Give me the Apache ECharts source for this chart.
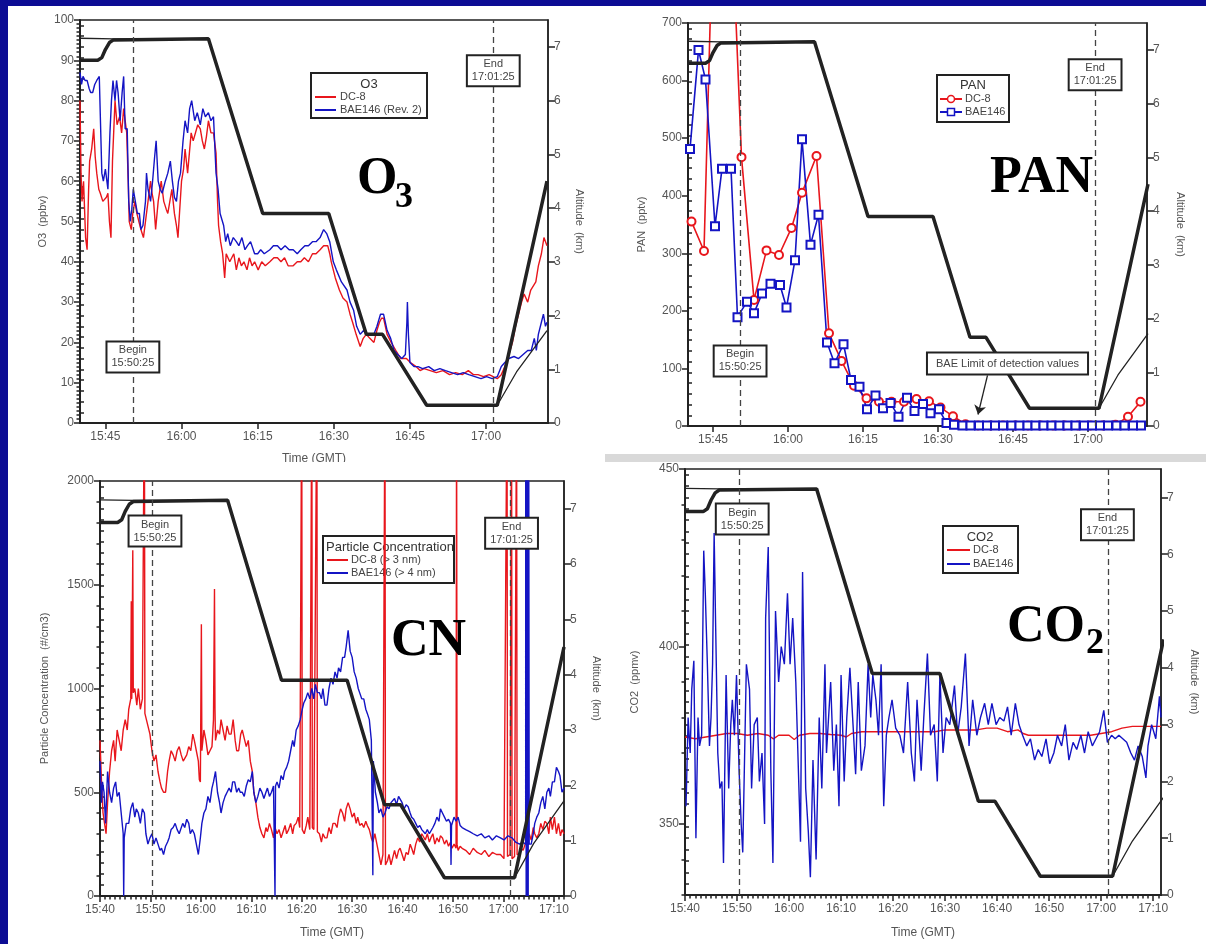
<!DOCTYPE html>
<html>
<head>
<meta charset="utf-8">
<title>O3 / PAN / CN / CO2 intercomparison</title>
<script src="https://cdn.jsdelivr.net/npm/echarts@6.0.0/dist/echarts.min.js"></script>
<style>
  html, body { margin: 0; padding: 0; background: #0c0c94; }
  #paper { position: absolute; left: 8px; top: 6px; width: 1198px; height: 938px; background: #fff; }
  #chart { position: absolute; left: 0; top: 0; width: 1206px; height: 944px; }
</style>
</head>
<body>
<div id="paper"></div>
<div id="chart"></div>
<script>
// time is minutes after 15:40 GMT
const TOP_TICKS = [5, 20, 35, 50, 65, 80];
const BOTTOM_TICKS = [0, 10, 20, 30, 40, 50, 60, 70, 80, 90];
const BEGIN_T = 10.42; // 15:50:25
const END_T = 81.42;   // 17:01:25

// altitude (km): thick and thin black traces
const altThick = [[0,6.75],[3.5,6.75],[4.3,6.8],[5.0,6.95],[5.8,7.08],[6.6,7.13],[25.3,7.15],[36.0,3.9],[49.0,3.9],[56.4,1.65],[59.6,1.65],[68.3,0.33],[82.2,0.33],[92,4.5]];
const altThin = [[0,7.16],[6.6,7.15],[25.3,7.15],[36.0,3.9],[49.0,3.9],[56.4,1.65],[59.6,1.65],[68.3,0.33],[82.2,0.33],[86.0,0.95],[92,1.72]];

// O3 (ppbv)
const o3Dc8 = [[0,80],[0.2,62],[0.4,55],[0.7,60],[1.1,46],[1.4,43],[1.7,58],[1.9,65],[2.3,68],[2.7,73],[3.0,66],[3.3,62],[3.7,58],[4.0,57],[4.5,55],[5.2,56],[5.5,57],[5.8,50],[6.1,46],[6.4,65],[6.9,80],[7.3,74],[7.8,76],[8.2,72],[8.6,78],[9.2,72],[9.5,60],[9.7,50],[10.1,48],[10.4,52],[10.8,55],[11.2,52],[11.6,50],[12.0,48],[12.5,46],[13.1,52],[13.5,56],[13.9,60],[14.2,57],[14.5,55],[14.9,48],[15.4,55],[16.0,60],[16.5,55],[17.0,53],[17.3,52],[17.7,55],[18.1,58],[18.6,52],[19.0,49],[19.3,46],[20.0,60],[20.4,63],[20.7,68],[21.2,62],[21.9,72],[22.3,70],[22.6,70],[23.2,74],[23.7,73],[24.1,70],[24.5,68],[24.9,71],[25.3,75],[25.8,72],[26.3,72],[26.8,67],[27.1,55],[27.3,49],[27.7,45],[28.1,42],[28.5,36],[28.8,42],[29.1,42],[29.5,40],[29.8,40],[30.3,42],[30.8,38],[31.3,41],[31.8,39],[32.3,40],[32.9,38],[33.4,41],[33.9,39],[34.4,40],[35.1,38],[35.8,40],[36.5,39],[37.4,40],[38.2,41],[38.9,41],[39.6,40],[40.3,41],[41.0,39],[42.0,39],[42.8,40],[43.5,40],[44.2,41],[45.0,40],[45.8,42],[46.5,42],[47.3,43],[48.0,44],[48.8,44],[49.2,42],[49.5,40],[50.3,36],[51.1,33],[51.8,31],[52.6,30],[53.2,27],[53.7,25],[54.4,22],[55.2,19],[55.8,21],[56.4,22],[57.1,21],[57.9,20],[58.5,23],[59.0,25],[59.4,26],[59.8,26],[60.5,22],[61.3,20],[62.2,18],[63.2,16],[64.3,16],[65.1,15],[66.2,14],[67.0,13],[67.8,13.5],[69.0,13],[70.2,12.5],[71.5,13],[72.8,12],[74.0,12.5],[75.3,12],[76.5,13],[77.5,12],[78.4,12],[79.5,11.5],[80.6,12],[81.4,11.5],[82.2,11],[83.0,12],[83.7,14],[84.5,17],[85.2,20],[85.8,24],[86.4,27],[87.0,30],[87.5,32],[88.2,30],[88.8,33],[89.8,35],[90.3,39],[90.9,42],[91.4,46],[92,44]];
const o3Bae = [[0,87],[0.3,84],[0.6,86],[1.0,85],[1.4,85],[1.8,83],[2.1,82],[2.5,82],[2.9,84],[3.3,85],[3.8,86],[4.1,86],[4.3,62],[4.6,60],[5.0,63],[5.5,58],[5.9,72],[6.2,80],[6.5,85],[6.9,80],[7.2,85],[7.5,82],[7.9,75],[8.3,82],[8.6,86],[8.9,73],[9.3,73],[9.6,55],[9.9,50],[10.2,53],[10.5,58],[10.9,55],[11.3,52],[11.7,52],[12.0,48],[12.4,49],[12.9,55],[13.1,62],[13.4,58],[13.9,55],[14.3,60],[14.7,66],[15.0,70],[15.4,60],[15.8,58],[16.2,57],[16.8,60],[17.3,62],[17.8,65],[18.2,60],[18.6,56],[19.0,55],[19.4,60],[19.8,62],[20.3,70],[20.7,75],[21.2,72],[21.6,78],[22.0,80],[22.6,75],[23.1,77],[23.7,74],[24.2,78],[24.7,76],[25.3,77],[25.8,75],[26.3,76],[26.8,62],[27.2,58],[27.6,52],[28.3,49],[28.7,45],[29.1,47],[29.6,44],[30.2,46],[30.8,45],[31.3,44],[31.9,46],[32.5,43],[33.0,44],[33.6,45],[34.4,42],[35.0,42],[35.6,43],[36.3,42],[37.4,43],[38.1,44],[38.9,44],[39.6,43],[40.4,44],[41.2,43],[42.0,43],[42.8,42],[43.5,43],[44.3,44],[45.0,44],[45.8,45],[46.5,45],[47.3,46],[48.0,48],[48.6,47],[49.2,45],[49.9,40],[50.5,38],[51.5,35],[52.6,33],[53.2,30],[53.9,28],[54.5,24],[55.2,22],[55.9,23],[56.6,22],[57.1,22],[57.9,22],[58.5,24],[59.2,27],[59.8,27],[60.5,23],[61.2,21],[61.9,18],[62.6,17],[63.4,16],[64.1,17],[64.4,25],[64.5,30],[64.7,22],[65.0,15],[65.8,14],[66.6,14],[67.5,13.5],[68.7,14],[69.8,13],[70.9,13.5],[72.0,13],[73.2,12.5],[74.4,12],[75.5,12.5],[76.6,12],[77.8,11.5],[79.0,11],[80.1,11.5],[81.2,11],[82.2,11.5],[83.0,14],[83.7,15],[84.5,16],[85.5,16.5],[86.4,16],[87.3,17],[88.2,18],[88.9,18],[89.5,21],[89.9,18],[90.3,22],[90.9,25],[91.3,27],[91.7,24],[92,25]];

// PAN (pptv)
const panDc8 = [[0.7,355],[3.2,304],[6.5,1370],[10.7,467],[13.2,219],[15.7,305],[18.2,297],[20.7,344],[22.8,405],[25.7,469],[28.2,161],[30.7,113],[33.2,70],[35.7,48],[38.2,42],[40.7,42],[43.2,42],[45.7,47],[48.2,43],[50.5,32],[53.0,17],[55.5,3],[58.0,1],[60.5,1],[63.0,1],[65.5,1],[68.0,1],[70.5,1],[73.0,1],[75.3,1],[78.0,1],[80.5,1],[83.0,1],[85.5,2],[88.0,16],[90.5,42]];
const panBae = [[0.4,481],[2.1,653],[3.5,602],[5.4,347],[6.8,447],[8.6,447],[9.9,189],[11.8,216],[13.2,196],[14.8,230],[16.5,247],[18.4,245],[19.7,206],[21.4,288],[22.8,498],[24.5,315],[26.1,367],[27.8,145],[29.3,109],[31.1,142],[32.6,80],[34.3,68],[35.8,29],[37.5,53],[39.0,31],[40.5,40],[42.1,16],[43.8,49],[45.3,26],[47.0,38],[48.5,22],[50.2,29],[51.7,5],[53.2,2],[54.9,1],[56.5,1],[58.2,1],[59.8,1],[61.4,1],[63.0,1],[64.7,1],[66.3,1],[67.9,1],[69.5,1],[71.1,1],[72.7,1],[74.3,1],[75.9,1],[77.5,1],[79.2,1],[80.8,1],[82.4,1],[84.0,1],[85.7,1],[87.3,1],[89.0,1],[90.6,1]];

// particle concentration (#/cm3)
const cnDc8 = [[0,750],[0.3,550],[0.6,400],[0.9,350],[1.2,300],[1.5,450],[1.9,600],[2.3,700],[2.7,750],[3.0,650],[3.4,800],[3.8,750],[4.2,700],[4.6,800],[5.0,850],[5.4,800],[5.7,900],[6.1,950],[6.2,1420],[6.3,950],[6.5,1666],[6.6,980],[6.9,1000],[7.3,920],[7.6,1000],[8.0,900],[8.4,950],[8.8,2500],[8.9,880],[9.2,850],[9.5,850],[9.9,780],[10.3,700],[10.7,650],[11.1,680],[11.5,600],[11.9,550],[12.2,520],[12.6,500],[13.0,500],[13.4,600],[13.7,650],[14.1,700],[14.5,680],[14.9,650],[15.3,700],[15.7,720],[16.1,680],[16.5,650],[16.8,650],[17.2,680],[17.6,720],[18.0,700],[18.4,780],[18.7,750],[19.1,700],[19.5,650],[19.7,560],[19.9,550],[20.1,1310],[20.2,700],[20.6,800],[21.0,750],[21.4,680],[21.8,700],[22.2,720],[22.5,850],[22.7,1480],[22.8,900],[22.9,750],[23.3,800],[23.7,780],[24.0,850],[24.4,800],[24.8,750],[25.2,820],[25.6,780],[26.0,780],[26.4,850],[26.8,750],[27.1,700],[27.5,700],[27.9,780],[28.2,800],[28.6,760],[29.0,720],[29.4,750],[29.8,650],[30.2,600],[30.5,500],[30.9,450],[31.3,380],[31.7,330],[32.1,300],[32.5,280],[32.9,330],[33.2,310],[33.6,350],[34.0,320],[34.4,280],[34.7,330],[35.1,300],[35.5,320],[35.9,280],[36.3,310],[36.7,340],[37.0,300],[37.4,320],[37.8,350],[38.2,300],[38.5,340],[38.9,350],[39.3,380],[39.6,330],[40.0,2500],[40.1,320],[40.5,300],[40.9,340],[41.2,380],[41.6,320],[42.0,2500],[42.1,330],[42.4,320],[43.0,2500],[43.1,310],[43.5,300],[43.9,260],[44.2,300],[44.6,280],[45.0,280],[45.4,330],[45.8,300],[46.2,350],[46.6,350],[47.0,330],[47.3,380],[47.7,420],[48.1,400],[48.5,360],[48.8,420],[49.2,450],[49.6,420],[50.0,380],[50.4,400],[50.8,350],[51.1,380],[51.5,340],[51.9,350],[52.3,330],[52.7,360],[53.0,340],[53.4,320],[53.8,280],[54.1,260],[54.5,300],[54.9,250],[55.3,200],[55.7,150],[56.1,200],[56.5,2500],[56.6,150],[57.0,170],[57.3,200],[57.7,150],[58.0,180],[58.4,220],[58.8,180],[59.2,220],[59.5,230],[59.9,200],[60.3,170],[60.7,210],[61.1,200],[61.5,250],[61.8,230],[62.2,200],[62.6,250],[63.0,280],[63.4,260],[63.8,300],[64.1,300],[64.5,270],[64.9,300],[65.3,260],[65.6,280],[66.0,300],[66.4,250],[66.8,280],[67.2,260],[67.5,290],[67.9,280],[68.3,250],[68.7,270],[69.1,240],[69.5,260],[69.8,230],[70.2,250],[70.6,230],[70.7,2500],[70.8,250],[71.0,220],[71.4,240],[71.8,230],[72.5,220],[73.3,200],[74.0,230],[74.8,210],[75.6,200],[76.3,220],[77.1,190],[77.8,210],[78.6,200],[79.4,200],[80.1,180],[80.7,2500],[80.8,190],[81.3,200],[81.6,2500],[81.7,180],[82.2,190],[82.6,2500],[82.7,200],[83.2,200],[83.5,230],[83.9,220],[84.3,250],[84.7,250],[85.1,300],[85.5,270],[85.9,330],[86.2,300],[86.6,280],[87.0,300],[87.4,350],[87.8,320],[88.2,360],[88.6,350],[89.0,300],[89.3,380],[89.7,320],[90.1,380],[90.5,300],[90.9,350],[91.3,290],[91.6,320],[92,300]];
const cnBae = [[0,650],[0.3,450],[0.5,550],[0.8,500],[1.1,350],[1.5,600],[1.9,500],[2.3,450],[2.7,520],[3.1,550],[3.4,480],[3.8,500],[4.2,400],[4.6,300],[4.7,0],[4.8,280],[5.2,350],[5.7,350],[6.1,420],[6.5,450],[6.9,380],[7.2,420],[7.6,400],[8.0,350],[8.4,420],[8.8,400],[9.1,300],[9.5,250],[9.9,280],[10.3,300],[10.7,250],[11.1,280],[11.5,250],[11.9,220],[12.2,230],[12.6,200],[13.0,240],[13.4,260],[13.7,280],[14.1,320],[14.5,330],[14.9,350],[15.3,320],[15.7,300],[16.0,300],[16.4,350],[16.8,330],[17.2,370],[17.6,350],[17.9,300],[18.3,320],[18.7,300],[19.1,250],[19.5,200],[19.9,280],[20.2,350],[20.6,400],[21.0,420],[21.4,480],[21.8,450],[22.2,520],[22.5,550],[22.9,600],[23.3,500],[23.7,450],[24.0,400],[24.4,450],[24.8,480],[25.2,500],[25.6,520],[26.0,500],[26.3,550],[26.7,550],[27.1,500],[27.5,520],[27.8,500],[28.2,500],[28.6,480],[29.0,530],[29.4,560],[29.8,550],[30.2,600],[30.5,500],[30.9,450],[31.3,480],[31.7,520],[32.1,500],[32.5,470],[32.9,500],[33.2,520],[33.6,480],[34.0,500],[34.4,530],[34.7,0],[34.8,530],[35.1,550],[35.5,520],[35.9,580],[36.3,560],[36.6,600],[37.0,620],[37.4,650],[37.8,700],[38.2,750],[38.5,720],[38.9,800],[39.3,820],[39.7,850],[40.1,900],[40.4,930],[40.8,950],[41.2,980],[41.6,950],[42.0,1000],[42.4,950],[42.7,1020],[43.1,980],[43.5,980],[43.9,950],[44.2,1000],[44.6,920],[45.0,920],[45.4,1000],[45.8,1050],[46.2,1020],[46.6,1080],[47.0,1050],[47.3,1100],[47.7,1080],[48.1,1150],[48.5,1150],[48.8,1200],[49.2,1280],[49.6,1180],[50.0,1150],[50.4,1080],[50.8,1050],[51.2,1000],[51.5,1000],[51.9,950],[52.3,950],[52.7,900],[53.0,880],[53.4,850],[53.8,750],[54.1,100],[54.2,650],[54.6,500],[55.0,450],[55.3,400],[55.7,420],[56.1,380],[56.5,400],[56.9,430],[57.3,420],[57.7,450],[58.0,450],[58.4,470],[58.8,440],[59.2,480],[59.5,480],[59.9,450],[60.3,420],[60.7,440],[61.1,430],[61.5,400],[61.8,380],[62.2,370],[62.6,350],[63.0,330],[63.4,340],[63.8,320],[64.1,320],[64.5,300],[64.9,320],[65.3,300],[65.6,300],[66.0,330],[66.4,350],[66.8,380],[67.2,360],[67.5,420],[67.9,400],[68.3,380],[68.7,360],[69.1,370],[69.5,350],[69.6,150],[69.7,340],[70.2,380],[70.6,360],[71.0,380],[71.4,340],[71.8,330],[72.5,320],[73.3,310],[74.0,300],[74.8,290],[75.6,300],[76.3,280],[77.1,290],[77.8,270],[78.6,290],[79.4,280],[80.1,270],[80.9,290],[81.7,280],[82.4,260],[83.2,250],[83.8,260],[84.4,250],[84.4,2500],[84.5,0],[84.6,2500],[84.7,0],[84.8,2500],[84.9,0],[85.0,2500],[85.1,250],[85.5,250],[85.9,300],[86.2,350],[86.6,380],[87.0,400],[87.4,450],[87.8,480],[88.2,420],[88.6,500],[89.0,520],[89.3,480],[89.7,550],[90.1,550],[90.5,620],[90.9,600],[91.2,580],[91.6,500],[92,520]];

// CO2 (ppmv)
const co2Dc8 = [[0,374.5],[2,374],[4,374.5],[6,375],[8,375.5],[10,375.5],[12,375],[14,375.5],[16,375],[17,374],[18,375],[20,375],[21,373.8],[22,375],[24,375.5],[26,375.5],[28,375.2],[30,375],[31,374.5],[32,375.5],[34,376],[36,376],[38,376],[40,376],[42,376],[44,376],[46,376],[48,376],[50,376.5],[52,376.5],[54,376.5],[56,376.5],[58,377],[60,377],[62,376],[64,376.5],[65,375.5],[66,375],[68,375],[70,375],[72,375],[74,375],[76,375],[78,375],[80,375.5],[82,376],[84,377],[86,377.5],[88,377.5],[90,377.5],[91.5,377.5]];
const co2Bae = [[0.2,355],[0.6,380],[1.0,370],[1.3,388],[1.7,396],[2.1,346],[2.5,380],[2.8,372],[3.2,375],[3.6,427],[3.9,415],[4.3,395],[4.7,372],[5.0,380],[5.3,395],[5.6,432],[5.9,405],[6.3,370],[6.7,360],[7.1,362],[7.4,339],[7.9,392],[8.4,360],[8.8,378],[9.1,385],[9.5,375],[9.9,392],[10.4,365],[10.8,350],[11.1,342],[11.6,380],[11.8,395],[12.4,388],[12.8,360],[13.3,378],[13.9,380],[14.3,362],[14.8,370],[15.3,350],[15.5,408],[16.0,428],[16.5,365],[16.9,339],[17.4,410],[18.0,390],[18.5,400],[19.1,395],[19.7,415],[20.2,395],[20.7,408],[21.3,390],[21.7,370],[22.2,345],[22.6,421],[23.2,360],[23.7,348],[24.1,335],[24.6,368],[25.2,340],[25.8,380],[26.3,360],[26.9,395],[27.2,370],[28.0,390],[28.6,365],[29.1,378],[29.6,355],[30.0,392],[30.6,362],[31.1,380],[31.7,394],[32.3,378],[32.8,364],[33.3,390],[33.9,365],[34.6,372],[35.2,395],[35.7,380],[36.1,392],[36.7,385],[37.2,375],[37.7,395],[38.2,355],[38.7,375],[39.2,380],[39.8,385],[40.5,377],[41.3,375],[42.0,370],[42.8,390],[43.5,370],[44.1,362],[44.6,385],[45.4,365],[45.9,380],[46.6,398],[47.2,375],[47.9,378],[48.5,362],[49.0,392],[49.6,370],[50.2,380],[50.9,378],[51.8,389],[52.4,375],[53.1,383],[53.9,398],[54.6,372],[55.3,385],[56.1,375],[56.8,380],[57.6,384],[58.3,378],[59.0,384],[59.8,378],[60.5,380],[61.3,379],[62.0,383],[62.7,375],[63.5,384],[64.2,378],[64.9,375],[65.7,372],[66.4,374],[67.2,368],[67.9,371],[68.6,369],[69.4,374],[70.1,367],[70.9,370],[71.6,375],[72.4,372],[73.1,378],[73.8,368],[74.6,373],[75.3,371],[76.1,375],[76.8,370],[77.5,376],[78.3,372],[79.0,374],[79.7,376],[80.5,382],[81.2,373],[82.0,375],[82.7,374],[83.4,375],[84.9,373],[85.7,370],[86.4,368],[87.1,372],[87.9,369],[88.6,363],[89.0,372],[89.7,378],[90.5,374],[91.2,386],[91.5,380]];

const RED = '#e8161c';
const BLUE = '#1414c4';
const BLACK = '#222';
const LABEL = '#555';
const FONT = '"Liberation Sans", Arial, sans-serif';
const SERIF = '"Liberation Serif", "Times New Roman", serif';

function steps(a, b, s) {
    const out = [];
    for (let v = a; v <= b + 1e-9; v += s) out.push(+v.toFixed(2));
    return out;
}

function fmtTime(v) {
    const m = Math.round(940 + v);
    return Math.floor(m / 60) + ':' + String(m % 60).padStart(2, '0');
}

function plain(v) {
    return String(v);
}

const ALT_MAJOR = steps(0, 7, 1);
const ALT_MINOR = steps(0, 7.4, 0.2);

const panels = [
    {
        grid: { left: 80, top: 20, width: 468, height: 403 }, xMax: 92.2,
        yMin: 0, yMax: 100, yMajor: steps(0, 100, 10), yMinor: steps(0, 100, 1),
        xMajor: TOP_TICKS, xMinor: [], xName: 'Time (GMT)', xNameGap: 30,
        yName: 'O3  (ppbv)', yNameGap: 32, altNameGap: 26,
        dc8: o3Dc8, bae: o3Bae, symbols: false,
        begin: [10.42, 16.4], end: [81.42, 87.4]
    },
    {
        grid: { left: 688, top: 23, width: 459, height: 403 }, xMax: 91.8,
        yMin: 0, yMax: 700, yMajor: steps(0, 700, 100), yMinor: [],
        xMajor: TOP_TICKS, xMinor: [], xName: '', xNameGap: 30,
        yName: 'PAN  (pptv)', yNameGap: 41, altNameGap: 28,
        dc8: panDc8, bae: panBae, symbols: true,
        begin: [10.42, 113], end: [81.42, 610],
        note: { text: 'BAE Limit of detection values', at: [63.9, 108.6], arrow: [[59.9, 88], [58.0, 20]] }
    },
    {
        grid: { left: 100, top: 481, width: 464, height: 415 }, xMax: 92,
        yMin: 0, yMax: 2000, yMajor: steps(0, 2000, 500), yMinor: steps(0, 2000, 100),
        xMajor: BOTTOM_TICKS, xMinor: steps(0, 92, 1), xName: 'Time (GMT)', xNameGap: 31,
        yName: 'Particle Concentration  (#/cm3)', yNameGap: 50, altNameGap: 27,
        dc8: cnDc8, bae: cnBae, symbols: false,
        begin: [10.9, 1759], end: [81.6, 1748]
    },
    {
        grid: { left: 685, top: 469, width: 476, height: 426 }, xMax: 91.5,
        yMin: 330, yMax: 450, yMajor: [350, 400, 450], yMinor: steps(330, 450, 10),
        xMajor: BOTTOM_TICKS, xMinor: steps(0, 91, 1), xName: 'Time (GMT)', xNameGap: 32,
        yName: 'CO2  (ppmv)', yNameGap: 45, altNameGap: 28,
        dc8: co2Dc8, bae: co2Bae, symbols: false,
        begin: [11.0, 435.9], end: [81.2, 434.3]
    }
];

const legends = [
    { x: 311, y: 73, w: 116, h: 45, title: 'O3', titleX: 369, titleY: 84, align: 'center', lineX: [315, 336], textX: 340, rowY: [97, 110], rows: ['DC-8', 'BAE146 (Rev. 2)'], marks: false },
    { x: 937, y: 75, w: 72, h: 47, title: 'PAN', titleX: 973, titleY: 85, align: 'center', lineX: [940, 962], textX: 965, rowY: [99, 112], rows: ['DC-8', 'BAE146'], marks: true },
    { x: 323, y: 536, w: 131, h: 47, title: 'Particle Concentration', titleX: 326, titleY: 547, align: 'left', lineX: [327, 348], textX: 351, rowY: [560, 573], rows: ['DC-8 (> 3 nm)', 'BAE146 (> 4 nm)'], marks: false },
    { x: 943, y: 526, w: 75, h: 47, title: 'CO2', titleX: 980, titleY: 537, align: 'center', lineX: [947, 970], textX: 973, rowY: [550, 564], rows: ['DC-8', 'BAE146'], marks: false }
];

const bigLabels = [
    { main: 'O', sub: '3', x: 357, y: 180, subX: 395, subY: 198 },
    { main: 'PAN', sub: '', x: 990, y: 179 },
    { main: 'CN', sub: '', x: 391, y: 642 },
    { main: 'CO', sub: '2', x: 1007, y: 628, subX: 1086, subY: 644 }
];

const labelStyle = { color: LABEL, fontSize: 12, fontFamily: FONT };
const tickStyle = { color: BLACK, width: 1.5 };
const boxLabel = {
    show: true, position: 'inside', color: '#444', fontSize: 11, lineHeight: 13,
    backgroundColor: '#fff', borderColor: BLACK, borderWidth: 2, padding: [2, 4, 1, 4],
    formatter: function (d) { return d.name; }
};

const option = {
    animation: false,
    textStyle: { fontFamily: FONT },
    grid: [], xAxis: [], yAxis: [], series: [], graphic: []
};

panels.forEach(function (p, i) {
    option.grid.push(Object.assign({ show: true, borderColor: BLACK, borderWidth: 1.5, backgroundColor: 'transparent' }, p.grid));

    option.xAxis.push({
        type: 'value', gridIndex: i, min: 0, max: p.xMax, position: 'bottom',
        axisLine: { show: true, onZero: false, lineStyle: { color: BLACK, width: 2 } },
        axisTick: { show: true, customValues: p.xMajor, length: 6, lineStyle: tickStyle },
        axisLabel: Object.assign({ customValues: p.xMajor, formatter: fmtTime, margin: 8 }, labelStyle),
        splitLine: { show: false },
        name: p.xName, nameLocation: 'middle', nameGap: p.xNameGap,
        nameTextStyle: { color: LABEL, fontSize: 12 }
    });
    option.xAxis.push({
        type: 'value', gridIndex: i, min: 0, max: p.xMax, position: 'bottom',
        axisLine: { show: false },
        axisTick: { show: p.xMinor.length > 0, customValues: p.xMinor, length: 3.5, lineStyle: tickStyle },
        axisLabel: { show: false }, splitLine: { show: false }
    });

    option.yAxis.push({
        type: 'value', gridIndex: i, min: p.yMin, max: p.yMax, position: 'left',
        axisLine: { show: true, onZero: false, lineStyle: { color: BLACK, width: 2 } },
        axisTick: { show: true, customValues: p.yMajor, length: 6, lineStyle: tickStyle },
        axisLabel: Object.assign({ customValues: p.yMajor, formatter: plain, margin: 6 }, labelStyle),
        splitLine: { show: false },
        name: p.yName, nameLocation: 'middle', nameGap: p.yNameGap, nameRotate: 90,
        nameTextStyle: { color: LABEL, fontSize: 11 }
    });
    option.yAxis.push({
        type: 'value', gridIndex: i, min: p.yMin, max: p.yMax, position: 'left',
        axisLine: { show: false },
        axisTick: { show: p.yMinor.length > 0, customValues: p.yMinor, length: 3.5, lineStyle: tickStyle },
        axisLabel: { show: false }, splitLine: { show: false }
    });
    option.yAxis.push({
        type: 'value', gridIndex: i, min: 0, max: 7.5, position: 'right',
        axisLine: { show: true, onZero: false, lineStyle: { color: BLACK, width: 1.5 } },
        axisTick: { show: true, customValues: ALT_MAJOR, length: 7, lineStyle: tickStyle },
        axisLabel: Object.assign({ customValues: ALT_MAJOR, formatter: plain, margin: 6 }, labelStyle),
        splitLine: { show: false },
        name: 'Altitude  (km)', nameLocation: 'middle', nameGap: p.altNameGap, nameRotate: -90,
        nameTextStyle: { color: LABEL, fontSize: 11 }
    });
    option.yAxis.push({
        type: 'value', gridIndex: i, min: 0, max: 7.5, position: 'right',
        axisLine: { show: false },
        axisTick: { show: true, customValues: ALT_MINOR, length: 4, lineStyle: tickStyle },
        axisLabel: { show: false }, splitLine: { show: false }
    });

    const xi = 2 * i, yv = 4 * i, ya = 4 * i + 2;
    const leg = legends[i].rows;

    const boxes = [
        { name: 'Begin\n15:50:25', coord: p.begin },
        { name: 'End\n17:01:25', coord: p.end }
    ];
    const marks = [{ xAxis: BEGIN_T }, { xAxis: END_T }];
    if (p.note) {
        boxes.push({ name: p.note.text, coord: p.note.at, label: { padding: [4, 8, 3, 8] } });
        marks.push([
            { coord: p.note.arrow[0], symbol: 'none', lineStyle: { type: 'solid', color: BLACK, width: 1.3 } },
            { coord: p.note.arrow[1], symbol: 'arrow', symbolSize: 9, lineStyle: { type: 'solid', color: BLACK, width: 1.3 } }
        ]);
    }

    option.series.push({
        name: leg[0], type: 'line', xAxisIndex: xi, yAxisIndex: yv, data: p.dc8,
        showSymbol: p.symbols, symbol: p.symbols ? 'emptyCircle' : 'none', symbolSize: 8,
        lineStyle: { color: RED, width: p.symbols ? 1.6 : 1.4 }, itemStyle: { color: RED, borderWidth: 1.5 },
        clip: true, silent: true,
        markLine: {
            silent: true, symbol: ['none', 'none'], label: { show: false },
            lineStyle: { type: [6, 4], color: '#444', width: 1.3 },
            data: marks
        },
        markPoint: {
            silent: true, symbol: 'rect', symbolSize: 1,
            itemStyle: { color: 'rgba(0,0,0,0)' },
            label: boxLabel,
            data: boxes
        }
    });
    option.series.push({
        name: leg[1], type: 'line', xAxisIndex: xi, yAxisIndex: yv, data: p.bae,
        showSymbol: p.symbols, symbol: p.symbols ? 'emptyRect' : 'none', symbolSize: 8,
        lineStyle: { color: BLUE, width: p.symbols ? 1.6 : 1.4 }, itemStyle: { color: BLUE, borderWidth: 1.5 },
        clip: true, silent: true
    });
    option.series.push({
        name: 'Altitude (thin)', type: 'line', xAxisIndex: xi, yAxisIndex: ya, data: altThin,
        showSymbol: false, symbol: 'none', lineStyle: { color: BLACK, width: 1.3 }, clip: true, silent: true
    });
    option.series.push({
        name: 'Altitude', type: 'line', xAxisIndex: xi, yAxisIndex: ya, data: altThick,
        showSymbol: false, symbol: 'none', lineStyle: { color: BLACK, width: 3.5 }, clip: true, silent: true
    });
});

// legends drawn as boxed groups with a title line
legends.forEach(function (L) {
    const colors = [RED, BLUE];
    const els = [{
        type: 'rect', shape: { x: L.x, y: L.y, width: L.w, height: L.h },
        style: { fill: '#fff', stroke: BLACK, lineWidth: 2 }
    }, {
        type: 'text', x: L.titleX, y: L.titleY,
        style: { text: L.title, fill: '#333', font: '13px ' + FONT, align: L.align, textAlign: L.align, verticalAlign: 'middle', textVerticalAlign: 'middle' }
    }];
    L.rows.forEach(function (name, k) {
        const y = L.rowY[k];
        els.push({ type: 'line', shape: { x1: L.lineX[0], y1: y, x2: L.lineX[1], y2: y }, style: { stroke: colors[k], lineWidth: 2 } });
        if (L.marks) {
            const cx = (L.lineX[0] + L.lineX[1]) / 2;
            if (k === 0) {
                els.push({ type: 'circle', shape: { cx: cx, cy: y, r: 3.5 }, style: { fill: '#fff', stroke: RED, lineWidth: 1.5 } });
            } else {
                els.push({ type: 'rect', shape: { x: cx - 3.5, y: y - 3.5, width: 7, height: 7 }, style: { fill: '#fff', stroke: BLUE, lineWidth: 1.5 } });
            }
        }
        els.push({
            type: 'text', x: L.textX, y: y,
            style: { text: name, fill: '#444', font: '11px ' + FONT, align: 'left', textAlign: 'left', verticalAlign: 'middle', textVerticalAlign: 'middle' }
        });
    });
    option.graphic.push({ type: 'group', z: 100, children: els });
});

bigLabels.forEach(function (b) {
    option.graphic.push({
        type: 'text', z: 100, x: b.x, y: b.y,
        style: { text: b.main, fill: '#000', font: 'bold 52px ' + SERIF, align: 'left', textAlign: 'left', verticalAlign: 'middle', textVerticalAlign: 'middle' }
    });
    if (b.sub) {
        option.graphic.push({
            type: 'text', z: 100, x: b.subX, y: b.subY,
            style: { text: b.sub, fill: '#000', font: 'bold 36px ' + SERIF, align: 'left', textAlign: 'left', verticalAlign: 'middle', textVerticalAlign: 'middle' }
        });
    }
});

// grey strip between the right-hand panels, and the clipped edge of the top-left axis title
option.graphic.push({ type: 'rect', z: 100, shape: { x: 605, y: 454, width: 601, height: 8 }, style: { fill: '#d9d9d9' } });
option.graphic.push({ type: 'rect', z: 100, shape: { x: 280, y: 462, width: 160, height: 10 }, style: { fill: '#fff' } });

var myChart = echarts.init(document.getElementById('chart'), null, { renderer: 'canvas' });
myChart.setOption(option);
window.addEventListener('resize', myChart.resize);
</script>
</body>
</html>
